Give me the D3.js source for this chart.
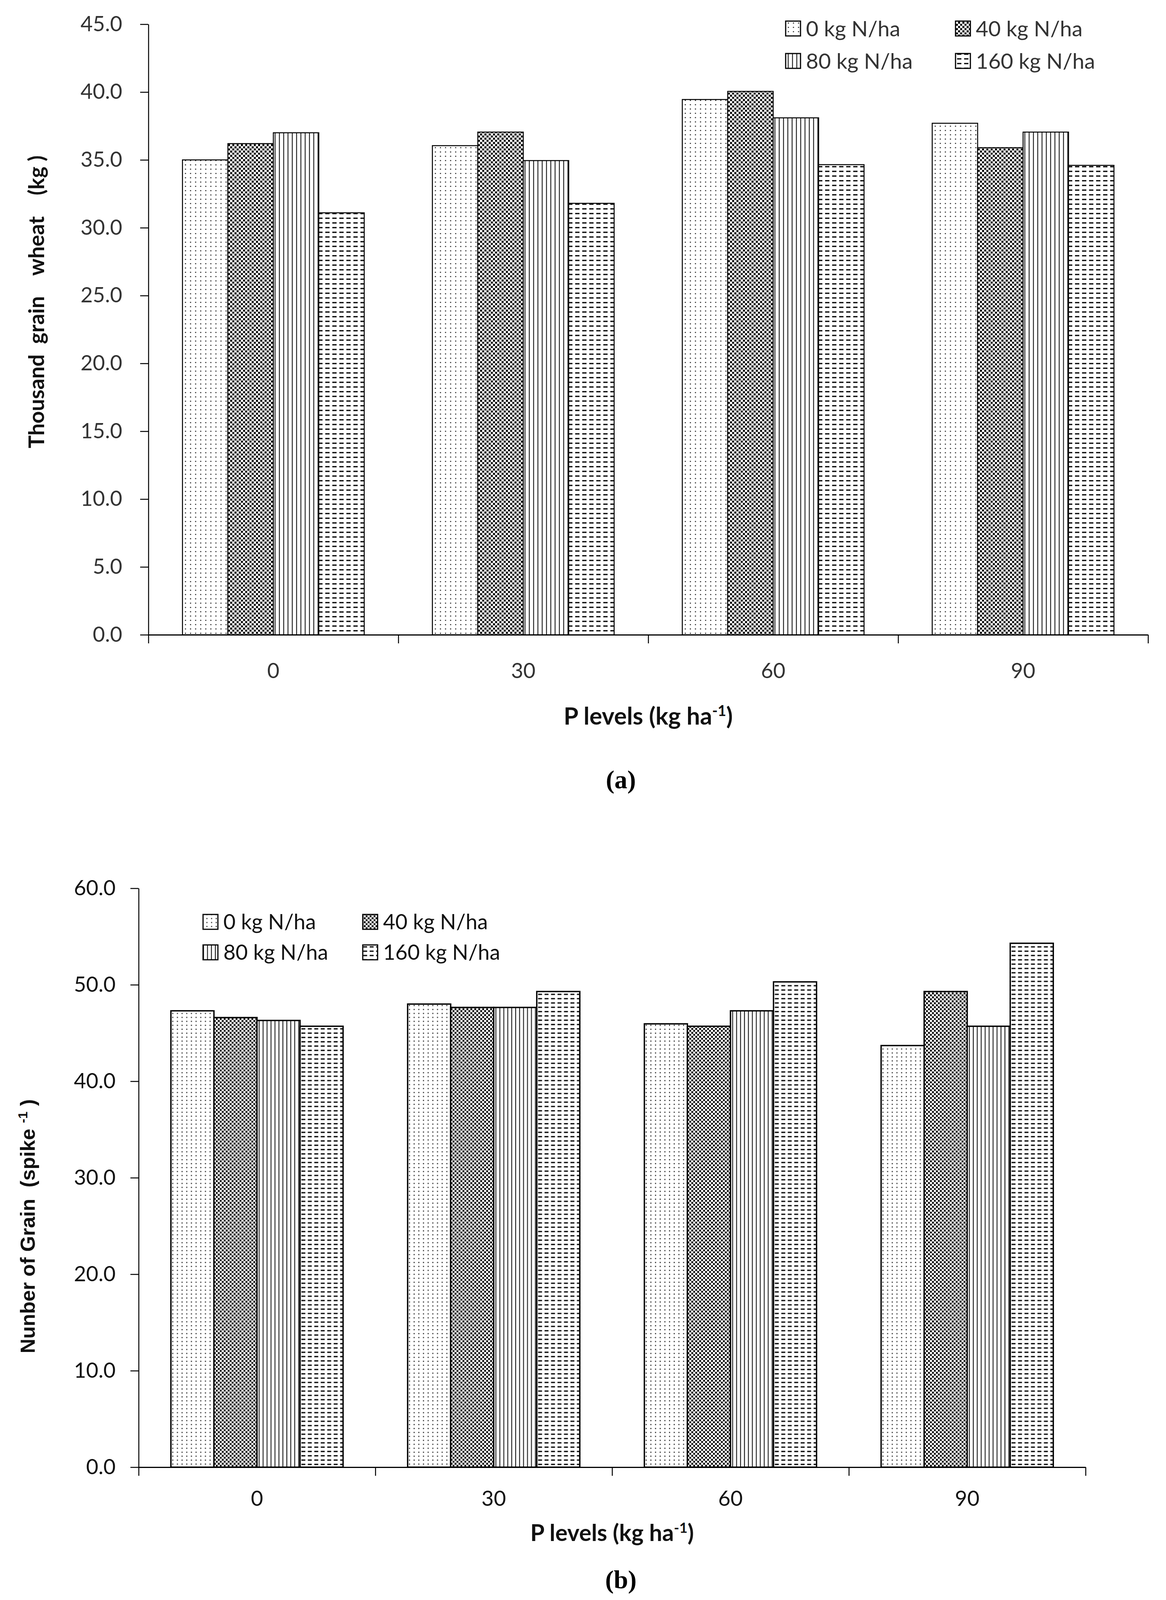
<!DOCTYPE html>
<html>
<head>
<meta charset="utf-8">
<script src="https://cdn.jsdelivr.net/npm/d3@7"></script>
<style>
  body { margin: 0; background: #fff; overflow: hidden; }
  svg { display: block; }
  text { white-space: pre; }
</style>
</head>
<body>
<svg id="fig"></svg>
<script>
// P levels (x categories) and N rates (series)
const pLevels = ['0', '30', '60', '90'];
const nRates = ['0 kg N/ha', '40 kg N/ha', '80 kg N/ha', '160 kg N/ha'];

// (a) thousand grain weight, kg
const tgwN0 = [35.0, 36.05, 39.45, 37.7];
const tgwN40 = [36.2, 37.05, 40.05, 35.9];
const tgwN80 = [37.0, 34.95, 38.1, 37.05];
const tgwN160 = [31.1, 31.8, 34.65, 34.6];
const tgwTicks = [0, 5, 10, 15, 20, 25, 30, 35, 40, 45];

// (b) number of grains per spike
const ngN0 = [47.3, 48.0, 45.95, 43.7];
const ngN40 = [46.6, 47.65, 45.7, 49.3];
const ngN80 = [46.3, 47.65, 47.3, 45.7];
const ngN160 = [45.7, 49.3, 50.3, 54.3];
const ngTicks = [0, 10, 20, 30, 40, 50, 60];

const W = 2986, H = 4194;
const svg = d3.select('#fig').attr('width', W).attr('height', H);
svg.append('rect').attr('width', W).attr('height', H).attr('fill', '#fff');

const defs = svg.append('defs');

// hatch patterns, one set per panel (b is a bit finer)
function makePatterns(prefix, k) {
  const p0 = defs.append('pattern').attr('id', prefix + 'p0')
    .attr('patternUnits', 'userSpaceOnUse').attr('width', 13 * k).attr('height', 11 * k);
  p0.append('rect').attr('width', 13 * k).attr('height', 11 * k).attr('fill', '#fff');
  p0.append('circle').attr('cx', 4 * k).attr('cy', 4 * k).attr('r', 1.6).attr('fill', '#222');

  const p1 = defs.append('pattern').attr('id', prefix + 'p1')
    .attr('patternUnits', 'userSpaceOnUse').attr('width', 11 * k).attr('height', 11 * k);
  p1.append('rect').attr('width', 11 * k).attr('height', 11 * k).attr('fill', '#fff');
  p1.append('rect').attr('x', 0.5 * k).attr('y', 0.5 * k).attr('width', 5.2 * k).attr('height', 5.2 * k).attr('fill', '#000');
  p1.append('rect').attr('x', 6 * k).attr('y', 6 * k).attr('width', 5 * k).attr('height', 5 * k).attr('fill', '#000');

  const p2 = defs.append('pattern').attr('id', prefix + 'p2')
    .attr('patternUnits', 'userSpaceOnUse').attr('width', 11 * k).attr('height', 20);
  p2.append('rect').attr('width', 11 * k).attr('height', 20).attr('fill', '#fff');
  p2.append('line').attr('x1', 5.5 * k).attr('x2', 5.5 * k).attr('y1', 0).attr('y2', 20)
    .attr('stroke', '#111').attr('stroke-width', 2.2);

  const p3 = defs.append('pattern').attr('id', prefix + 'p3')
    .attr('patternUnits', 'userSpaceOnUse').attr('width', 18 * k).attr('height', 12 * k);
  p3.append('rect').attr('width', 18 * k).attr('height', 12 * k).attr('fill', '#fff');
  p3.append('rect').attr('x', 3 * k).attr('y', 5 * k).attr('width', 11 * k).attr('height', 3.4).attr('fill', '#111');
}
makePatterns('a', 1);
makePatterns('b', 0.92);

function drawPanel(cfg) {
  const g = svg.append('g');
  const data = pLevels.map((p, i) => ({ p, values: cfg.series.map((s, j) => ({ key: nRates[j], j, v: s[i] })) }));

  const x0 = d3.scaleBand().domain(pLevels).range([cfg.left, cfg.right]).paddingInner(0).paddingOuter(0);
  const gap = 0.75 / 5.5;
  const x1 = d3.scaleBand().domain(nRates)
    .range([x0.bandwidth() * gap, x0.bandwidth() * (1 - gap)]).padding(0);
  const y = d3.scaleLinear().domain([0, cfg.max]).range([cfg.bottom, cfg.top]);

  // bars
  g.selectAll('g.grp').data(data).enter().append('g')
    .attr('transform', d => `translate(${x0(d.p)},0)`)
    .selectAll('rect').data(d => d.values).enter().append('rect')
    .attr('x', d => x1(d.key))
    .attr('y', d => y(d.v))
    .attr('width', x1.bandwidth())
    .attr('height', d => y(0) - y(d.v))
    .attr('fill', d => `url(#${cfg.id}p${d.j})`)
    .attr('stroke', '#000')
    .attr('stroke-width', cfg.barStroke);

  // y axis
  const ya = g.append('g').attr('transform', `translate(${cfg.left},0)`)
    .call(d3.axisLeft(y).tickValues(cfg.ticks).tickFormat(d3.format('.1f'))
      .tickSize(21).tickSizeOuter(0).tickPadding(cfg.yPad));
  ya.select('.domain').attr('stroke', '#000').attr('stroke-width', 2.5);
  ya.selectAll('.tick line').attr('stroke', '#000').attr('stroke-width', 2.5);
  ya.selectAll('.tick text').attr('font-family', 'Lato, "Open Sans", sans-serif')
    .attr('font-size', cfg.tickFont).attr('fill', cfg.textColor);

  // x axis: boundary ticks + baseline
  const xb = d3.scaleLinear().domain([0, pLevels.length]).range([cfg.left, cfg.right]);
  const xa = g.append('g').attr('transform', `translate(0,${y(0)})`)
    .call(d3.axisBottom(xb).ticks(pLevels.length).tickFormat('').tickSize(22).tickSizeOuter(0));
  xa.select('.domain').attr('stroke', '#000').attr('stroke-width', 3);
  xa.selectAll('.tick line').attr('stroke', '#000').attr('stroke-width', 2.5);

  // x category labels
  const xl = g.append('g').attr('transform', `translate(0,${y(0)})`)
    .call(d3.axisBottom(x0).tickSize(0).tickPadding(cfg.xPad));
  xl.select('.domain').remove();
  xl.selectAll('.tick text').attr('font-family', 'Lato, "Open Sans", sans-serif')
    .attr('font-size', cfg.tickFont).attr('fill', cfg.textColor);

  // x title
  const fs = cfg.xTitleSize;
  const xt = g.append('text')
    .attr('x', (cfg.left + cfg.right) / 2).attr('y', cfg.xTitleY)
    .attr('text-anchor', 'middle')
    .attr('font-family', 'Lato, "Open Sans", sans-serif').attr('font-weight', 'bold')
    .attr('font-size', fs).attr('fill', '#111');
  xt.append('tspan').text('P levels (kg ha');
  xt.append('tspan').attr('font-size', fs * 0.62).attr('dy', -fs * 0.36).text('-1');
  xt.append('tspan').attr('dy', fs * 0.36).text(')');

  // y title (end of the text pinned near the top)
  const yt = g.append('text')
    .attr('transform', `translate(${cfg.yTitleX},${cfg.yTitleY}) rotate(-90)`)
    .attr('text-anchor', 'end')
    .attr('font-family', cfg.yTitleFamily).attr('font-weight', 'bold')
    .attr('font-size', cfg.yTitleSize).attr('fill', '#111');
  cfg.yTitle(yt);

  // legend
  const leg = g.append('g');
  nRates.forEach((n, j) => {
    const col = j % 2, row = Math.floor(j / 2);
    const lx = cfg.legX[col], ly = cfg.legY[row];
    leg.append('rect').attr('x', lx).attr('y', ly - 19).attr('width', 38).attr('height', 38)
      .attr('fill', `url(#${cfg.id}p${j})`).attr('stroke', '#000').attr('stroke-width', 3);
    leg.append('text').attr('x', lx + 52).attr('y', ly).attr('dy', '0.36em')
      .attr('font-family', 'Lato, "Open Sans", sans-serif').attr('font-size', cfg.legFont)
      .attr('fill', cfg.textColor).text(n);
  });

  // panel caption
  g.append('text').attr('x', 1590).attr('y', cfg.capY).attr('text-anchor', 'middle')
    .attr('font-family', '"Liberation Serif", "DejaVu Serif", serif').attr('font-weight', 'bold')
    .attr('font-size', 66).attr('fill', '#000').text(cfg.caption);
}

drawPanel({
  id: 'a', left: 380, right: 2940, top: 62, bottom: 1625, max: 45, ticks: tgwTicks,
  series: [tgwN0, tgwN40, tgwN80, tgwN160], barStroke: 2.5,
  tickFont: 54, textColor: '#333', yPad: 46, xPad: 73,
  xTitleY: 1855, xTitleSize: 61,
  yTitleX: 93, yTitleY: 398, yTitleSize: 55, yTitleFamily: 'Lato, "Open Sans", sans-serif',
  yTitle: t => t.attr('dy', '0.36em').text('Thousand  grain    wheat    (kg )'),
  legX: [2012, 2447], legY: [73, 156], legFont: 55,
  caption: '(a)', capY: 2018
});

// keep the bottom caption inside the visible window
const visibleH = Math.min(H, window.innerHeight || H);

drawPanel({
  id: 'b', left: 355, right: 2780, top: 2274, bottom: 3756, max: 60, ticks: ngTicks,
  series: [ngN0, ngN40, ngN80, ngN160], barStroke: 3.5,
  tickFont: 54, textColor: '#111', yPad: 38, xPad: 61,
  xTitleY: 3945, xTitleSize: 59,
  yTitleX: 70, yTitleY: 2814, yTitleSize: 52,
  yTitleFamily: '"Liberation Sans Narrow", "Arial Narrow", "Liberation Sans", sans-serif',
  yTitle: t => {
    t.attr('dy', '0.36em');
    t.append('tspan').text('Nunber of Grain  (spike ');
    t.append('tspan').attr('font-size', 33).attr('dy', -19).text('-1');
    t.append('tspan').attr('dy', 19).text(' )');
  },
  legX: [520, 929], legY: [2360, 2438], legFont: 54,
  caption: '(b)', capY: Math.min(4150, visibleH - 30)
});
</script>
</body>
</html>
